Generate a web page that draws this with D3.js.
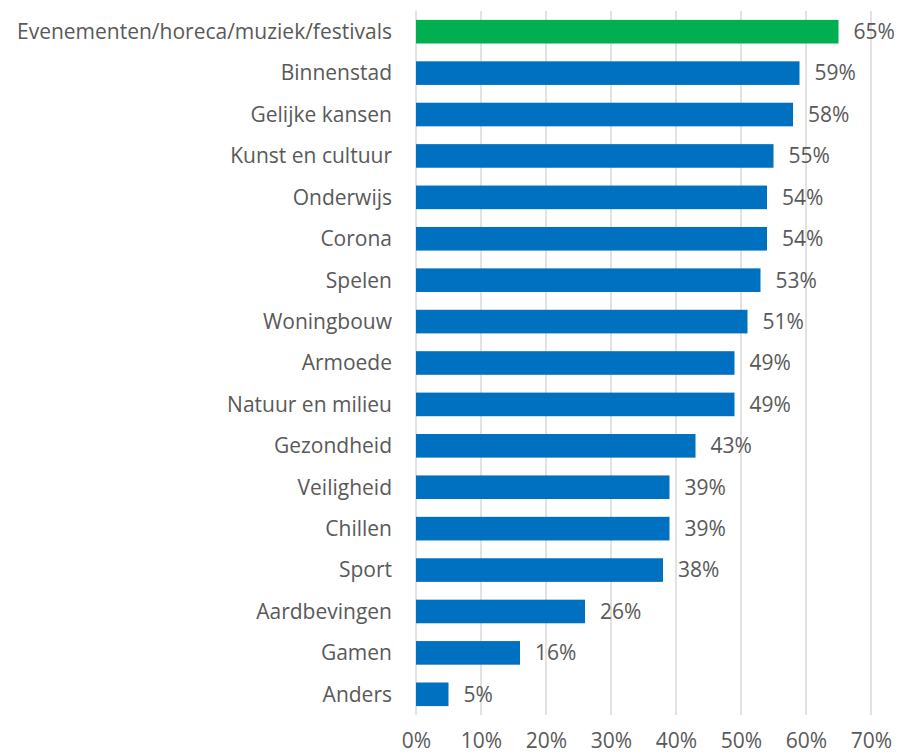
<!DOCTYPE html>
<html>
<head>
<meta charset="utf-8">
<script src="https://cdn.jsdelivr.net/npm/d3@7"></script>
<style>
  body { margin: 0; background: #fff; }
  text { font-family: "Open Sans", sans-serif; fill: #595959; }
</style>
</head>
<body>
<div id="wrapper"></div>
<script>
const categories = ["Evenementen/horeca/muziek/festivals", "Binnenstad", "Gelijke kansen",
  "Kunst en cultuur", "Onderwijs", "Corona", "Spelen", "Woningbouw", "Armoede",
  "Natuur en milieu", "Gezondheid", "Veiligheid", "Chillen", "Sport", "Aardbevingen",
  "Gamen", "Anders"]
const values = [65, 59, 58, 55, 54, 54, 53, 51, 49, 49, 43, 39, 39, 38, 26, 16, 5]
const tickValues = [0, 10, 20, 30, 40, 50, 60, 70]

// dimensions
const width = 899
const height = 755
const margin = {top: 11, right: 28, bottom: 40, left: 416}
const boundedWidth = width - margin.left - margin.right
const boundedHeight = height - margin.top - margin.bottom
const fontSize = "21px"

const svg = d3.select("#wrapper").append("svg")
    .attr("width", width)
    .attr("height", height)
    .style("display", "block")

const bounds = svg.append("g")
    .attr("transform", `translate(${margin.left},${margin.top})`)

// scales
const x = d3.scaleLinear().domain([0, 70]).range([0, 455])
const y = d3.scaleBand().domain(categories).range([0, boundedHeight]).paddingInner(0.43).paddingOuter(0.215)

// gridlines
bounds.selectAll(".grid")
  .data(tickValues)
  .join("line")
    .attr("x1", d => x(d))
    .attr("x2", d => x(d))
    .attr("y1", 0)
    .attr("y2", boundedHeight)
    .attr("stroke", "#d9d9d9")
    .attr("stroke-width", 1.5)

// bars
bounds.selectAll(".bar")
  .data(values)
  .join("rect")
    .attr("x", x(0))
    .attr("y", (d, i) => y(categories[i]))
    .attr("width", d => x(d))
    .attr("height", y.bandwidth())
    .attr("fill", (d, i) => i == 0 ? "#00b050" : "#0070c0")

// value labels
bounds.selectAll(".value")
  .data(values)
  .join("text")
    .attr("x", d => x(d) + 15)
    .attr("y", (d, i) => y(categories[i]) + y.bandwidth() / 2)
    .attr("dy", "0.35em")
    .style("font-size", fontSize)
    .text(d => d + "%")

// category labels
bounds.selectAll(".cat")
  .data(categories)
  .join("text")
    .attr("x", -24)
    .attr("y", d => y(d) + y.bandwidth() / 2)
    .attr("dy", "0.35em")
    .attr("text-anchor", "end")
    .style("font-size", fontSize)
    .text(d => d)

// x axis labels
const xAxis = d3.axisBottom(x).tickValues(tickValues).tickFormat(d => d + "%").tickSize(0)
const xAxisGroup = bounds.append("g")
    .attr("transform", `translate(0,${boundedHeight})`)
    .call(xAxis)
xAxisGroup.select(".domain").remove()
xAxisGroup.selectAll("text")
    .attr("y", 18)
    .style("font-size", fontSize)
    .style("font-family", "'Open Sans', sans-serif")
    .attr("fill", "#595959")
</script>
</body>
</html>
